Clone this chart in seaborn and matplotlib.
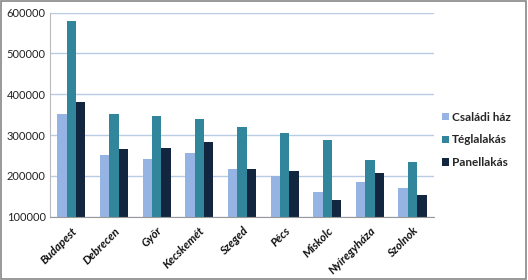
import matplotlib
matplotlib.use("Agg")
import matplotlib.pyplot as plt
import seaborn as sns
import pandas as pd
import numpy as np

cities = ["Budapest", "Debrecen", "Győr", "Kecskemét", "Szeged", "Pécs", "Miskolc", "Nyíregyháza", "Szolnok"]
csaladi = [351000, 250000, 241000, 257000, 218000, 200000, 161000, 186000, 170000]
tegla = [579000, 352000, 347000, 340000, 319000, 304000, 287000, 238000, 234000]
panel = [380000, 267000, 269000, 282000, 217000, 211000, 140000, 206000, 152000]
series = ["Családi ház", "Téglalakás", "Panellakás"]
colors = ["#95B3E3", "#31869B", "#132640"]

df = pd.DataFrame({
    "city": cities * 3,
    "value": csaladi + tegla + panel,
    "type": [series[0]] * 9 + [series[1]] * 9 + [series[2]] * 9,
})

sns.set_style("white")
plt.rcParams["font.family"] = ["Lato", "DejaVu Sans"]

fig = plt.figure(figsize=(5.28, 2.80), dpi=100)
ax = fig.add_axes([0.0947, 0.226, 0.727, 0.729])
sns.barplot(data=df, x="city", y="value", hue="type", palette=colors,
            width=0.66, ax=ax, gap=0, saturation=1, legend=True, edgecolor="none")

ax.set_ylim(100000, 600000)
ax.set_yticks([100000, 200000, 300000, 400000, 500000, 600000])
ax.set_yticklabels([str(v) for v in [100000, 200000, 300000, 400000, 500000, 600000]],
                   fontsize=8, color="#222222")
ax.set_xlim(-0.5, len(cities) - 0.5)
ax.yaxis.grid(True, color="#B8CCE4", linewidth=1)
ax.set_axisbelow(True)
ax.set_xlabel("")
ax.set_ylabel("")

ax.set_xticks(np.arange(len(cities)))
ax.set_xticklabels(cities, rotation=45, ha="right", rotation_mode="anchor",
                   fontsize=8.3, fontweight="bold", fontstyle="italic", color="#111111")
ax.tick_params(axis="x", length=0, pad=6)
ax.set_xticks(np.arange(len(cities) + 1) - 0.5, minor=True)
ax.tick_params(axis="x", which="minor", length=4, color="#999999", width=0.8)
ax.tick_params(axis="y", length=0, pad=3)

for s in ["top", "right"]:
    ax.spines[s].set_visible(False)
ax.spines["left"].set_color("#BBBBBB")
ax.spines["left"].set_linewidth(0.8)
ax.spines["bottom"].set_color("#999999")
ax.spines["bottom"].set_linewidth(0.8)

leg = ax.legend(loc="center left", bbox_to_anchor=(1.02, 0.376), frameon=False,
                prop={"weight": "bold", "size": 8.5}, handlelength=0.6, handleheight=0.6,
                handletextpad=0.3, labelspacing=1.0, borderpad=0, borderaxespad=0)

border = plt.Rectangle((0.002, 0.003), 0.995, 0.993, transform=fig.transFigure,
                       fill=False, edgecolor="#888888", linewidth=1.2)
fig.patches.append(border)

fig.savefig("out.png", dpi=100)
